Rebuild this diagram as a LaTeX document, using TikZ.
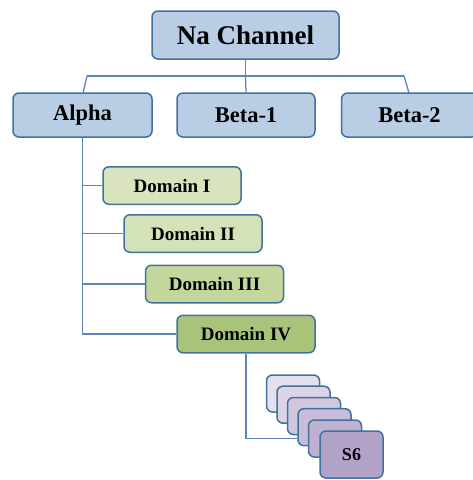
\documentclass[tikz,border=0pt]{standalone}
\usepackage{fontspec}
\setmainfont{Liberation Serif}
\definecolor{lineblue}{HTML}{5B86BF}
\definecolor{edgeblue}{HTML}{41719C}
\definecolor{fillblue}{HTML}{B9CDE5}
\definecolor{gA}{HTML}{D8E4BE}
\definecolor{gB}{HTML}{D4E2B8}
\definecolor{gC}{HTML}{C3D69B}
\definecolor{gD}{HTML}{A9C47A}
\definecolor{pA}{HTML}{E6E0EC}
\definecolor{pB}{HTML}{DCD3E6}
\definecolor{pC}{HTML}{D2C7DF}
\definecolor{pD}{HTML}{C9BCD9}
\definecolor{pE}{HTML}{BFB1D2}
\definecolor{pF}{HTML}{B3A2C7}
\tikzset{
  box/.style={draw=edgeblue, line width=1.5pt, rounded corners=6pt, inner sep=0pt, font=\bfseries},
  bluebox/.style={box, fill=fillblue, minimum height=44pt, font=\bfseries\fontsize{22.5}{26}\selectfont},
  dombox/.style={box, minimum width=138pt, minimum height=37.5pt, font=\bfseries\fontsize{19}{22}\selectfont},
  sbox/.style={box, minimum width=53pt, minimum height=37pt},
  conn/.style={draw=lineblue, line width=1.3pt}
}
\begin{document}
\begin{tikzpicture}[x=1pt, y=-1pt]
\useasboundingbox (0,0) rectangle (473,480);
\coordinate (hl) at (87,76);
\coordinate (hm) at (245.5,76);
\coordinate (hr) at (404,76);
\coordinate (s1) at (82.5,185.5);
\coordinate (s2) at (82.5,233.5);
\coordinate (s3) at (82.5,284);
\coordinate (s4) at (82.5,334);
\coordinate (d4b) at (246,438.5);
% nodes
\node[box, fill=fillblue, minimum width=187pt, minimum height=48pt, font=\bfseries\fontsize{27}{30}\selectfont] (na) at (245.5,35) {Na Channel};
\node[bluebox, minimum width=139pt] (alpha) at (82.5,115) {Alpha};
\node[bluebox, minimum width=138pt] (beta1) at (246,115) {Beta-1};
\node[bluebox, minimum width=136pt] (beta2) at (409.5,115) {Beta-2};
\node[dombox, fill=gA] (d1) at (172,185.5) {Domain I};
\node[dombox, fill=gB] (d2) at (193,233.5) {Domain II};
\node[dombox, fill=gC] (d3) at (214.5,284) {Domain III};
\node[dombox, fill=gD] (d4) at (246,334) {Domain IV};
% connectors
\draw[conn] (na.south) -- (hm);
\draw[conn] (hl) -- (hr);
\draw[conn] (hl) -- (83,93);
\draw[conn] (hm) -- (beta1.north);
\draw[conn] (hr) -- (409,93);
\draw[conn] (alpha.south -| s4) -- (s4) -- (d4.west);
\draw[conn] (s1) -- (d1.west);
\draw[conn] (s2) -- (d2.west);
\draw[conn] (s3) -- (d3.west);
\draw[conn] (d4.south) -- (d4b) -- (320,438.5);
% stack
\node[sbox, fill=pA] (p1) at (293,393.5) {};
\node[sbox, fill=pB] (p2) at (303.5,404.7) {};
\node[sbox, fill=pC] (p3) at (314,416) {};
\node[sbox, fill=pD] (p4) at (324.5,427.2) {};
\node[sbox, fill=pE] (p5) at (335,438.5) {};
\node[box, fill=pF, minimum width=63pt, minimum height=47pt, font=\bfseries\fontsize{18}{21}\selectfont] (s6) at (351.5,454.5) {S6};
\end{tikzpicture}
\end{document}
